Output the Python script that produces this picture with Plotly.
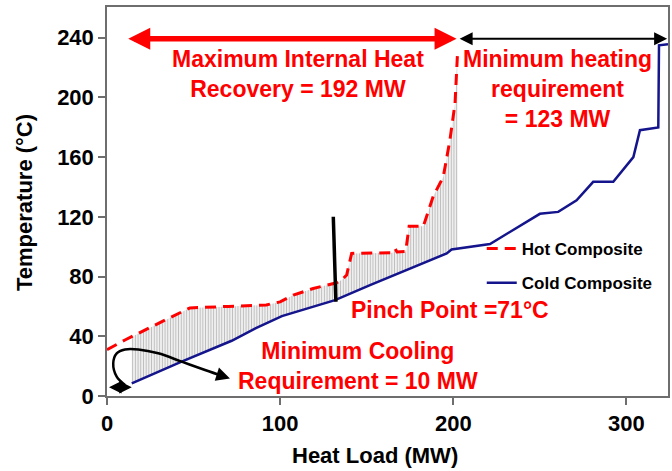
import numpy as np
import plotly.graph_objects as go

# ---- data ----
hot_mw = [0, 10.4, 27.7, 47.9, 70, 92, 100, 107.6, 119.1, 124.9, 132.6, 135.5, 138.4, 141.3,
          157.6, 165, 166.5, 167.5, 172.5, 174.5, 182.7, 188.5, 194.2, 198, 201, 202.5]
hot_t = [31, 37.5, 47.5, 59, 60, 61, 63, 67.6, 72, 73.6, 75.8, 77.6, 81, 95.5,
         95.5, 96, 98.5, 96.5, 96.8, 113.7, 113.7, 134, 146.7, 171, 196, 231]

cold_mw = [14.3, 43.1, 72, 86, 101, 131.7, 151.9, 175, 196.2, 199, 203.8, 221.2, 250, 260.6,
           271.2, 280.8, 292.4, 304, 307.8, 318.4, 318.8, 324]
cold_t = [8.5, 23, 37, 45.5, 53.5, 64.2, 74.3, 85.4, 95.5, 98.1, 98.8, 101.8, 122, 123.3,
          131, 143.4, 143.4, 160, 178, 179.8, 234.8, 235.5]

x_ticks = [0, 100, 200, 300]
y_ticks = [0, 40, 80, 120, 160, 200, 240]

# annotation geometry (MW, degC)
hook_mw = [10.4, 5.6, 3.6, 5.6, 10.4, 18.1, 29.6, 43.1, 56.6, 68]
hook_t = [7.4, 12.9, 21.9, 28.6, 31.2, 31.2, 28.6, 23, 17.4, 12.9]
pinch_mw = [130.7, 132.2]
pinch_t = [120, 63.1]

RED = "#FF0000"
NAVY = "#14148C"
FONT = "Arial, 'Liberation Sans', sans-serif"

# hatch polygon between hot and cold composites (overlap region)
x0 = cold_mw[0]
x1 = hot_mw[-1]
top_x = [x0] + [x for x in hot_mw if x > x0]
top_y = [float(np.interp(x0, hot_mw, hot_t))] + [t for x, t in zip(hot_mw, hot_t) if x > x0]
low_x = [x for x in cold_mw if x < x1] + [x1]
low_y = [t for x, t in zip(cold_mw, cold_t) if x < x1] + [float(np.interp(x1, cold_mw, cold_t))]
poly_x = top_x + low_x[::-1]
poly_y = top_y + low_y[::-1]

fig = go.Figure()
fig.add_trace(go.Scatter(
    x=poly_x, y=poly_y, mode="lines", fill="toself", line=dict(width=0),
    fillcolor="rgba(255,255,255,0)",
    fillpattern=dict(shape="|", size=2.7, solidity=0.5, fgcolor="#7A7A7A", bgcolor="rgba(255,255,255,0)"),
    showlegend=False, hoverinfo="skip"))
fig.add_trace(go.Scatter(
    x=hot_mw, y=hot_t, mode="lines", name="<b>Hot Composite</b>", legendgroup="h",
    line=dict(color=RED, width=3, dash="11px,7px")))
fig.add_trace(go.Scatter(
    x=cold_mw, y=cold_t, mode="lines", name="<b>Cold Composite</b>", legendgroup="c",
    line=dict(color=NAVY, width=2.5)))
fig.add_trace(go.Scatter(
    x=hook_mw, y=hook_t, mode="lines", line=dict(color="black", width=2.5, shape="spline"),
    showlegend=False, hoverinfo="skip"))
fig.add_trace(go.Scatter(
    x=pinch_mw, y=pinch_t, mode="lines", line=dict(color="black", width=3.5),
    showlegend=False, hoverinfo="skip"))

ann = []
# red double arrow
ann.append(dict(x=201.9, y=239.3, ax=11.4, ay=239.3, xref="x", yref="y", axref="x", ayref="y",
                text="", showarrow=True, arrowside="end+start", arrowhead=2, arrowsize=0.8,
                arrowwidth=5.5, arrowcolor=RED))
# black double arrow
ann.append(dict(x=323.5, y=239.3, ax=202.8, ay=239.3, xref="x", yref="y", axref="x", ayref="y",
                text="", showarrow=True, arrowside="end+start", arrowhead=2, arrowsize=1.3,
                arrowwidth=2, arrowcolor="black"))
# small cooling double arrow
ann.append(dict(x=14.3, y=5.8, ax=0.3, ay=5.8, xref="x", yref="y", axref="x", ayref="y",
                text="", showarrow=True, arrowside="end+start", arrowhead=2, arrowsize=1.0,
                arrowwidth=2.5, arrowcolor="black"))
# hook arrow head
ann.append(dict(x=71, y=11.8, ax=63, ay=14.8, xref="x", yref="y", axref="x", ayref="y",
                text="", showarrow=True, arrowhead=2, arrowsize=1.1,
                arrowwidth=2.5, arrowcolor="black"))

tfont = dict(family=FONT, size=23, color=RED)
ann.append(dict(x=110.3, y=215.8, xref="x", yref="y", showarrow=False, font=tfont,
                text="<b>Maximum Internal Heat<br>Recovery = 192 MW</b>"))
ann.append(dict(x=259.9, y=205.4, xref="x", yref="y", showarrow=False, font=tfont,
                text="<b>Minimum heating<br>requirement<br>= 123 MW</b>"))
ann.append(dict(x=198, y=57.5, xref="x", yref="y", showarrow=False, font=tfont,
                text="<b>Pinch Point =71°C</b>"))
ann.append(dict(x=145, y=20.1, xref="x", yref="y", showarrow=False, font=tfont,
                text="<b>Minimum Cooling<br>Requirement = 10 MW</b>"))

# axis titles
afont = dict(family=FONT, size=22, color="black")
ann.append(dict(x=(375 - 107) / 561, y=-(455 - 396) / 389, xref="paper", yref="paper",
                showarrow=False, font=afont, text="<b>Heat Load (MW)</b>",
                xanchor="center", yanchor="middle"))
ann.append(dict(x=-(107 - 24) / 561, y=(396 - 203) / 389, xref="paper", yref="paper",
                showarrow=False, font=afont, text="<b>Temperature (°C)</b>", textangle=-90,
                xanchor="center", yanchor="middle"))

axis_common = dict(
    showgrid=False, zeroline=False, showline=True, linecolor="#6E6E6E", linewidth=1.5,
    mirror=True, ticks="outside", ticklen=7, tickcolor="#6E6E6E", tickwidth=1.5,
    automargin=False, tickfont=dict(family=FONT, size=22, color="black"))

fig.update_layout(
    width=672, height=471,
    margin=dict(l=107, r=4, t=7, b=75),
    paper_bgcolor="white", plot_bgcolor="white",
    font=dict(family=FONT, color="black"),
    xaxis=dict(range=[0, 324], tickvals=x_ticks, ticktext=[f"<b>{v}</b>" for v in x_ticks],
               **axis_common),
    yaxis=dict(range=[0, 260.5], tickvals=y_ticks, ticktext=[f"<b>{v}</b>" for v in y_ticks],
               **axis_common),
    legend=dict(x=0.668, y=0.424, xanchor="left", yanchor="top", bgcolor="rgba(0,0,0,0)",
                font=dict(family=FONT, size=17, color="black"), tracegroupgap=9),
    annotations=ann,
)

fig.write_html("out.html", config={"displayModeBar": False},
               post_script="document.body.style.margin='0';document.body.style.padding='0';")
